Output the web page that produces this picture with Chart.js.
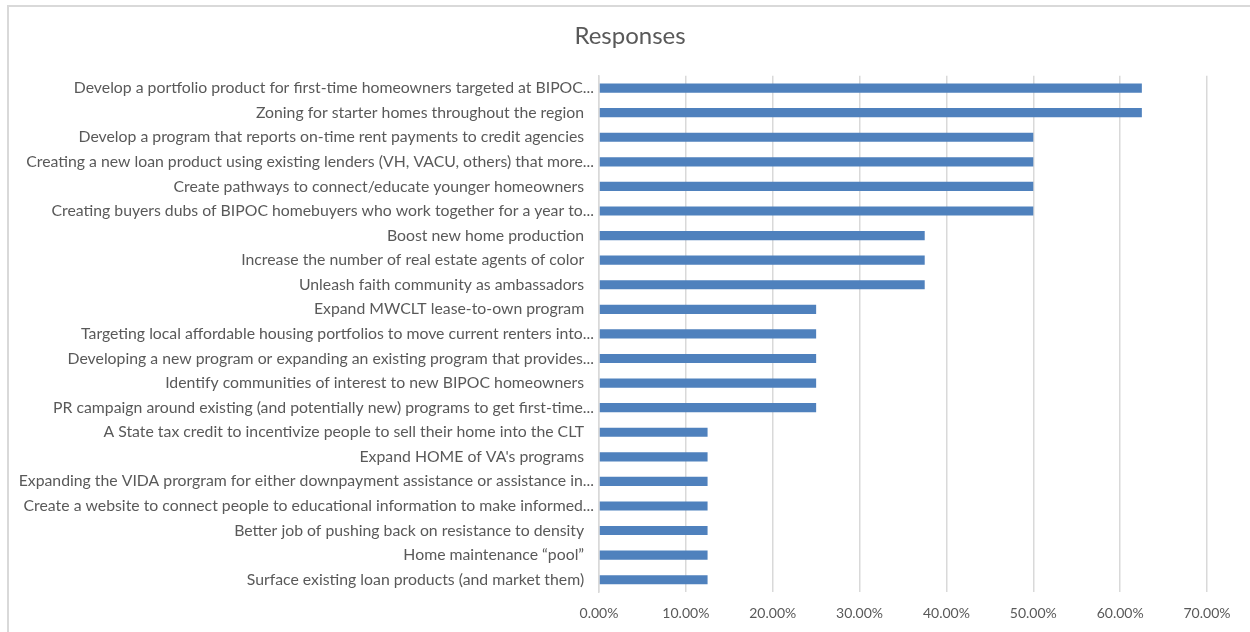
<!DOCTYPE html>
<html>
<head>
<meta charset="utf-8">
<script src="https://cdn.jsdelivr.net/npm/chart.js@4"></script>
<style>
  html, body { margin: 0; padding: 0; background: #fff; overflow: hidden; }
  #frame {
    position: absolute; left: 7px; top: 5px;
    width: 1260px; height: 640px;
    border-left: 2px solid #d9d9d9; border-top: 2px solid #d9d9d9;
  }
  #bars { position: absolute; left: 0; top: 0; }
</style>
</head>
<body>
<div id="frame"></div>
<canvas id="bars" width="1250" height="632"></canvas>
<script>
const labels = [
  "Develop a portfolio product for first-time homeowners targeted at BIPOC...",
  "Zoning for starter homes throughout the region",
  "Develop a program that reports on-time rent payments to credit agencies",
  "Creating a new loan product using existing lenders (VH, VACU, others) that more...",
  "Create pathways to connect/educate younger homeowners",
  "Creating buyers dubs of BIPOC homebuyers who work together for a year to...",
  "Boost new home production",
  "Increase the number of real estate agents of color",
  "Unleash faith community as ambassadors",
  "Expand MWCLT lease-to-own program",
  "Targeting local affordable housing portfolios to move current renters into...",
  "Developing a new program or expanding an existing program that provides...",
  "Identify communities of interest to new BIPOC homeowners",
  "PR campaign around existing (and potentially new) programs to get first-time...",
  "A State tax credit to incentivize people to sell their home into the CLT",
  "Expand HOME of VA's programs",
  "Expanding the VIDA prorgram for either downpayment assistance or assistance in...",
  "Create a website to connect people to educational information to make informed...",
  "Better job of pushing back on resistance to density",
  "Home maintenance \u201cpool\u201d",
  "Surface existing loan products (and market them)"
];
const responses = [
  62.5, 62.5, 50, 50, 50, 50,
  37.5, 37.5, 37.5,
  25, 25, 25, 25, 25,
  12.5, 12.5, 12.5, 12.5, 12.5, 12.5, 12.5
];
const xTicks = [0, 10, 20, 30, 40, 50, 60, 70];

const grey = '#595959';
const font = "Lato, 'Open Sans', sans-serif";

// centre the title over the framed area rather than the whole canvas
const titleShift = {
  id: 'titleShift',
  afterLayout(chart) {
    if (chart.titleBlock) chart.titleBlock.left = 53;
  }
};

new Chart(document.getElementById('bars'), {
  type: 'bar',
  data: {
    labels: labels,
    datasets: [{
      label: 'Responses',
      data: responses,
      backgroundColor: '#4f81bd',
      borderWidth: 0,
      barPercentage: 0.6,
      categoryPercentage: 0.62
    }]
  },
  plugins: [titleShift],
  options: {
    indexAxis: 'y',
    responsive: false,
    animation: false,
    layout: { padding: { left: 0, right: 43, top: 0, bottom: 0 } },
    plugins: {
      legend: { display: false },
      tooltip: { enabled: false },
      title: {
        display: true,
        text: 'Responses',
        color: grey,
        font: { family: font, size: 24, weight: 'normal' },
        padding: { top: 22, bottom: 25 }
      }
    },
    scales: {
      x: {
        min: 0,
        max: 70,
        afterBuildTicks: function (scale) {
          scale.ticks = xTicks.map(v => ({ value: v }));
        },
        afterFit: function (scale) { scale.height = 40; },
        grid: { color: '#d9d9d9', lineWidth: 1.5, drawTicks: false },
        border: { display: false },
        ticks: {
          color: grey,
          padding: 13,
          font: { family: font, size: 14 },
          callback: v => v.toFixed(2) + '%'
        }
      },
      y: {
        afterFit: function (scale) { scale.width = 599; },
        grid: { display: false, drawTicks: false },
        border: { color: '#d9d9d9', width: 1.5 },
        ticks: {
          color: grey,
          padding: 5,
          autoSkip: false,
          font: { family: font, size: 15.8 },
          callback: function (v) {
            const s = this.getLabelForValue(v);
            // untruncated labels sit a little further from the axis
            return s.endsWith('...') ? s : s + '\u2002\u2009';
          }
        }
      }
    }
  }
});
</script>
</body>
</html>
